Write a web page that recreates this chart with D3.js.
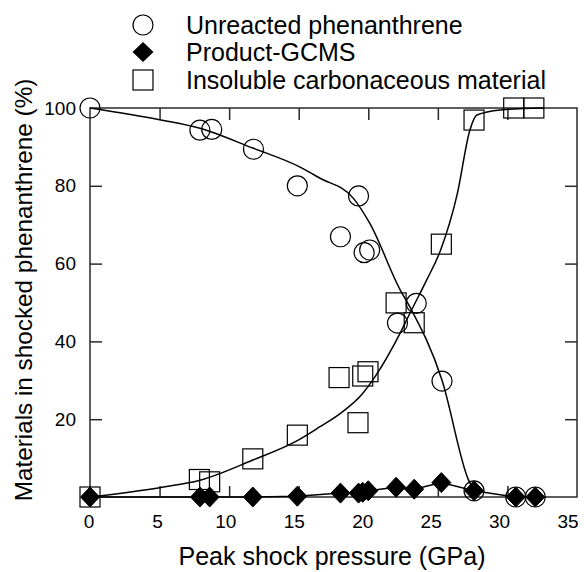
<!DOCTYPE html>
<html>
<head>
<meta charset="utf-8">
<script src="https://cdn.jsdelivr.net/npm/d3@7/dist/d3.min.js"></script>
<style>
  html, body { margin: 0; padding: 0; background: #fff; }
  svg { display: block; font-family: "Liberation Sans", Arial, Helvetica, sans-serif; }
</style>
</head>
<body>
<svg id="chart" width="584" height="572"></svg>
<script>
// ---------------- DATA ----------------
const xTicks = [0, 5, 10, 15, 20, 25, 30, 35];
const yTicks = [20, 40, 60, 80, 100];

// Unreacted phenanthrene (open circles)
const unreactedP = [0, 7.9, 8.75, 11.75, 14.9, 18.0, 19.3, 19.7, 20.1, 22.1, 23.45, 25.3, 27.6, 30.6, 32.0];
const unreactedV = [100, 94.3, 94.5, 89.4, 80.0, 66.9, 77.4, 62.8, 63.5, 44.7, 49.8, 29.8, 1.6, 0, 0];

// Product-GCMS (filled diamonds)
const productP = [0, 7.9, 8.6, 11.7, 14.9, 18.0, 19.3, 19.6, 20.0, 22.0, 23.3, 25.25, 27.6, 30.6, 32.0];
const productV = [0, 0, 0, 0, 0.2, 1.0, 1.0, 1.2, 1.6, 2.5, 2.0, 3.7, 1.6, 0, 0];

// Insoluble carbonaceous material (open squares)
const insolubleP = [0, 7.86, 8.6, 11.7, 14.9, 17.9, 19.26, 19.6, 19.98, 22.0, 23.3, 25.25, 27.6, 30.45, 31.9];
const insolubleV = [0, 4.5, 3.9, 9.8, 15.9, 30.7, 19.1, 31.1, 32.2, 49.9, 44.8, 65.0, 96.9, 100, 100];

// Fitted curves
const fitUnreactedP = [0, 5, 7.9, 11.7, 15.1, 16.5, 18.9, 20.1, 22.3, 23.0, 25.3, 27.2, 27.6];
const fitUnreactedV = [100, 97, 94.8, 89.7, 84.8, 82, 76.9, 70.4, 53.2, 48.8, 30, 4.4, 1.6];

const fitInsolubleP = [0, 5, 7.9, 11.7, 14.9, 16.5, 18.0, 19.5, 20.5, 22.3, 23.1, 24.2, 25.2, 26.4, 27.3, 27.8, 29.5, 32.6];
const fitInsolubleV = [0, 2.4, 4.3, 9.5, 14.5, 18, 21.5, 26.2, 31, 42.2, 48, 55.8, 63.5, 78, 94.3, 98.2, 99.5, 100];

const legendLabels = ["Unreacted phenanthrene", "Product-GCMS", "Insoluble carbonaceous material"];
const xTitle = "Peak shock pressure (GPa)";
const yTitle = "Materials in shocked phenanthrene (%)";

// ---------------- LAYOUT ----------------
const svg = d3.select("#chart");
const L = 90, R = 577, T = 108, B = 497;
const x = d3.scaleLinear().domain([0, 35]).range([L, R]);
const xLabel = d3.scaleLinear().domain([0, 35]).range([89, 568]);
const y = d3.scaleLinear().domain([0, 100]).range([B, T]);
const ink = "#000";
const frameInk = "#2a2a2a";

// frame
svg.append("rect").attr("x", L).attr("y", T).attr("width", R - L).attr("height", B - T)
  .attr("fill", "none").attr("stroke", frameInk).attr("stroke-width", 1.5);

// axes with inward ticks
const xInner = xTicks.filter(d => d > 0 && d < 35);
const yInner = yTicks.filter(d => d > 0 && d < 100);

svg.append("g").attr("transform", `translate(0,${B})`)
  .call(d3.axisTop(x).tickValues(xInner).tickSize(11).tickFormat(""))
  .call(g => g.select(".domain").remove())
  .call(g => g.selectAll("line").attr("stroke", frameInk).attr("stroke-width", 1.5));
svg.append("g").attr("transform", `translate(0,${T})`)
  .call(d3.axisBottom(x).tickValues(xInner).tickSize(12).tickFormat(""))
  .call(g => g.select(".domain").remove())
  .call(g => g.selectAll("line").attr("stroke", frameInk).attr("stroke-width", 1.5));
svg.append("g").attr("transform", `translate(${L},0)`)
  .call(d3.axisRight(y).tickValues(yInner).tickSize(12).tickFormat(""))
  .call(g => g.select(".domain").remove())
  .call(g => g.selectAll("line").attr("stroke", frameInk).attr("stroke-width", 1.5));
svg.append("g").attr("transform", `translate(${R},0)`)
  .call(d3.axisLeft(y).tickValues(yInner).tickSize(12).tickFormat(""))
  .call(g => g.select(".domain").remove())
  .call(g => g.selectAll("line").attr("stroke", frameInk).attr("stroke-width", 1.5));

// tick labels
svg.append("g").selectAll("text").data(xTicks).join("text")
  .attr("x", d => xLabel(d)).attr("y", 528)
  .attr("text-anchor", "middle").attr("font-size", 19).attr("fill", ink)
  .text(d => d);
svg.append("g").selectAll("text").data(yTicks).join("text")
  .attr("x", 76).attr("y", d => y(d)).attr("dy", "0.35em")
  .attr("text-anchor", "end").attr("font-size", 19).attr("fill", ink)
  .text(d => d);

// axis titles
svg.append("text").attr("x", 332).attr("y", 565).attr("text-anchor", "middle")
  .attr("font-size", 25).attr("fill", ink).text(xTitle);
svg.append("text").attr("transform", `translate(32,${290}) rotate(-90)`)
  .attr("text-anchor", "middle").attr("font-size", 24.3).attr("fill", ink).text(yTitle);

// ---------------- CURVES ----------------
const zip = (a, b) => a.map((d, i) => [d, b[i]]);
const lineSmooth = d3.line().x(d => x(d[0])).y(d => y(d[1])).curve(d3.curveMonotoneX);
const lineStraight = d3.line().x(d => x(d[0])).y(d => y(d[1])).curve(d3.curveLinear);

svg.append("path").attr("d", lineSmooth(zip(fitUnreactedP, fitUnreactedV)))
  .attr("fill", "none").attr("stroke", ink).attr("stroke-width", 1.5);
svg.append("path").attr("d", lineSmooth(zip(fitInsolubleP, fitInsolubleV)))
  .attr("fill", "none").attr("stroke", ink).attr("stroke-width", 1.5);
svg.append("path").attr("d", lineStraight(zip(productP, productV)))
  .attr("fill", "none").attr("stroke", ink).attr("stroke-width", 1.5);

// ---------------- MARKERS ----------------
const diamondPath = "M0,-10L9.5,0L0,10L-9.5,0Z";

svg.append("g").selectAll("circle").data(zip(unreactedP, unreactedV)).join("circle")
  .attr("cx", d => x(d[0])).attr("cy", d => y(d[1])).attr("r", 10)
  .attr("fill", "none").attr("stroke", ink).attr("stroke-width", 1.2);

svg.append("g").selectAll("rect").data(zip(insolubleP, insolubleV)).join("rect")
  .attr("x", d => x(d[0]) - 10).attr("y", d => y(d[1]) - 10).attr("width", 20).attr("height", 20)
  .attr("fill", "none").attr("stroke", ink).attr("stroke-width", 1.2);

svg.append("g").selectAll("path").data(zip(productP, productV)).join("path")
  .attr("transform", d => `translate(${x(d[0])},${y(d[1])})`)
  .attr("d", diamondPath).attr("fill", ink).attr("stroke", ink).attr("stroke-width", 1);

// ---------------- LEGEND ----------------
const lg = svg.append("g");
const lx = 143, ly = [25, 52, 80], tx = 186;
lg.append("circle").attr("cx", lx).attr("cy", ly[0]).attr("r", 10)
  .attr("fill", "none").attr("stroke", ink).attr("stroke-width", 1.2);
lg.append("path").attr("transform", `translate(${lx},${ly[1]})`).attr("d", "M0,-10L10.5,0L0,10L-10.5,0Z")
  .attr("fill", ink);
lg.append("rect").attr("x", lx - 10).attr("y", ly[2] - 10).attr("width", 20).attr("height", 20)
  .attr("fill", "none").attr("stroke", ink).attr("stroke-width", 1.2);
lg.selectAll("text").data(legendLabels).join("text")
  .attr("x", tx).attr("y", (d, i) => ly[i] + 8.5)
  .attr("font-size", 25).attr("fill", ink).text(d => d);
</script>
</body>
</html>
